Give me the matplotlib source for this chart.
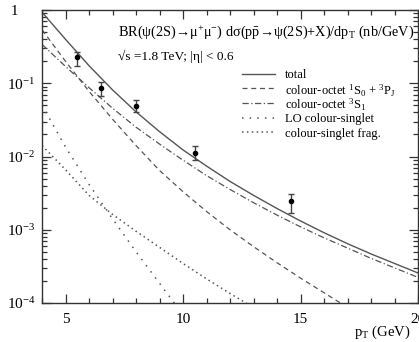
import numpy as np
import matplotlib
matplotlib.use("Agg")
import matplotlib.pyplot as plt
from matplotlib.ticker import FixedLocator, LogLocator, NullFormatter

plt.rcParams["font.family"] = ["Liberation Serif", "DejaVu Serif"]
plt.rcParams["mathtext.fontset"] = "custom"
plt.rcParams["mathtext.rm"] = "Liberation Serif"
plt.rcParams["mathtext.it"] = "Liberation Serif:italic"

# CDF psi(2S) data points (pT in GeV, cross section in nb/GeV)
data_pt = [5.5, 6.5, 8.0, 10.5, 14.6]
data_y = [0.227, 0.0855, 0.0484, 0.0110, 0.0025]
data_lo = [0.171, 0.066, 0.040, 0.0091, 0.0017]
data_hi = [0.266, 0.103, 0.0585, 0.0137, 0.0031]

# theory curves, log10 of the cross section read at integer pT
pt_grid = list(range(4, 21))
log_total = [-0.03, -0.40, -0.76, -1.09, -1.39, -1.66, -1.91, -2.13, -2.34,
             -2.53, -2.71, -2.88, -3.04, -3.19, -3.33, -3.46, -3.59]
log_octet_3s1 = [-0.47, -0.77, -1.06, -1.34, -1.60, -1.83, -2.05, -2.26, -2.45,
                 -2.63, -2.80, -2.96, -3.11, -3.25, -3.39, -3.52, -3.65]
pt_octet_1s0 = list(range(4, 18))
log_octet_1s0 = [-0.27, -0.70, -1.11, -1.49, -1.85, -2.19, -2.48, -2.75, -3.00,
                 -3.23, -3.45, -3.66, -3.86, -4.06]
pt_lo_singlet = list(range(4, 11))
log_lo_singlet = [-1.30, -1.87, -2.38, -2.85, -3.30, -3.73, -4.16]
pt_frag = list(range(4, 14))
log_frag = [-1.85, -2.18, -2.53, -2.79, -3.02, -3.24, -3.46, -3.67, -3.87, -4.06]

curve_labels = ["total",
                "colour-octet $^{1}$S$_{0}$ + $^{3}$P$_{\\mathrm{J}}$",
                "colour-octet $^{3}$S$_{1}$",
                "LO colour-singlet",
                "colour-singlet frag."]

x_ticks = [5, 10, 15, 20]
x_tick_labels = ["5", "10", "15", "20"]
y_ticks = [1e-4, 1e-3, 1e-2, 1e-1, 1]
y_tick_labels = ["10$^{-4}$", "10$^{-3}$", "10$^{-2}$", "10$^{-1}$", " 1"]

line_col = "#555555"
styles = [dict(lw=1.0, ls="-"),
          dict(lw=0.9, ls=(0, (4, 3))),
          dict(lw=0.9, ls=(0, (5, 2, 1, 2))),
          dict(lw=1.1, ls=(0, (1, 4))),
          dict(lw=1.1, ls=(0, (1, 2.2)))]

fig = plt.figure(figsize=(4.19, 3.42), dpi=100)
ax = fig.add_axes([42 / 419, 39 / 342, 376 / 419, 293 / 342])

curves = [(pt_grid, log_total), (pt_octet_1s0, log_octet_1s0),
          (pt_grid, log_octet_3s1), (pt_lo_singlet, log_lo_singlet),
          (pt_frag, log_frag)]
for (px, ly), st in zip(curves, styles):
    ax.plot(px, 10 ** np.array(ly), color=line_col, **st)

y = np.array(data_y)
yerr = [y - np.array(data_lo), np.array(data_hi) - y]
ax.errorbar(data_pt, y, yerr=yerr, fmt="o", ms=3, color="black",
            ecolor="#444444", elinewidth=1.0, capsize=2.5, capthick=1.0)

# hand-made legend so the rows stay evenly spaced
row_y = 0.783
for lab, st in zip(curve_labels, styles):
    ax.plot([0.532, 0.620], [row_y, row_y], transform=ax.transAxes,
            color=line_col, **st)
    ax.text(0.647, row_y, lab, transform=ax.transAxes, fontsize=9,
            va="center_baseline", ha="left")
    row_y -= 0.05

ax.set_yscale("log")
ax.set_xlim(4, 20)
ax.set_ylim(1e-4, 1)

ax.xaxis.set_major_locator(FixedLocator(x_ticks))
ax.set_xticklabels(x_tick_labels)
ax.xaxis.set_minor_locator(FixedLocator(range(4, 21)))
ax.yaxis.set_major_locator(FixedLocator(y_ticks))
ax.set_yticklabels(y_tick_labels)
ax.yaxis.set_minor_locator(LogLocator(base=10, subs=np.arange(2, 10)))
ax.yaxis.set_minor_formatter(NullFormatter())

ax.tick_params(which="both", direction="in", top=True, right=True,
               color="#333333", width=0.9)
ax.tick_params(which="major", length=6.5, labelsize=11)
ax.tick_params(axis="x", which="major", pad=7)
ax.tick_params(axis="y", which="major", pad=25)
ax.tick_params(which="minor", length=3.5)
for lab in ax.get_yticklabels():
    lab.set_ha("left")
for s in ax.spines.values():
    s.set_linewidth(1.0)
    s.set_color("#333333")

ax.set_xlabel("p$_{\\mathrm{T}}$ (GeV)", fontsize=10.5, ha="right")
ax.xaxis.set_label_coords(0.979, -0.072)

ax.text(0.202, 0.911,
        "BR(ψ(2S)→μ$^{+}$μ$^{-}$) dσ(p$\\mathrm{\\bar{p}}$→ψ(2S)+X)/dp$_{\\mathrm{T}}$ (nb/GeV)",
        transform=ax.transAxes, fontsize=10.3, va="baseline", ha="left")
ax.text(0.202, 0.829, "√s =1.8 TeV; |η| < 0.6",
        transform=ax.transAxes, fontsize=9.6, va="baseline", ha="left")

fig.savefig("out.png", dpi=100)
